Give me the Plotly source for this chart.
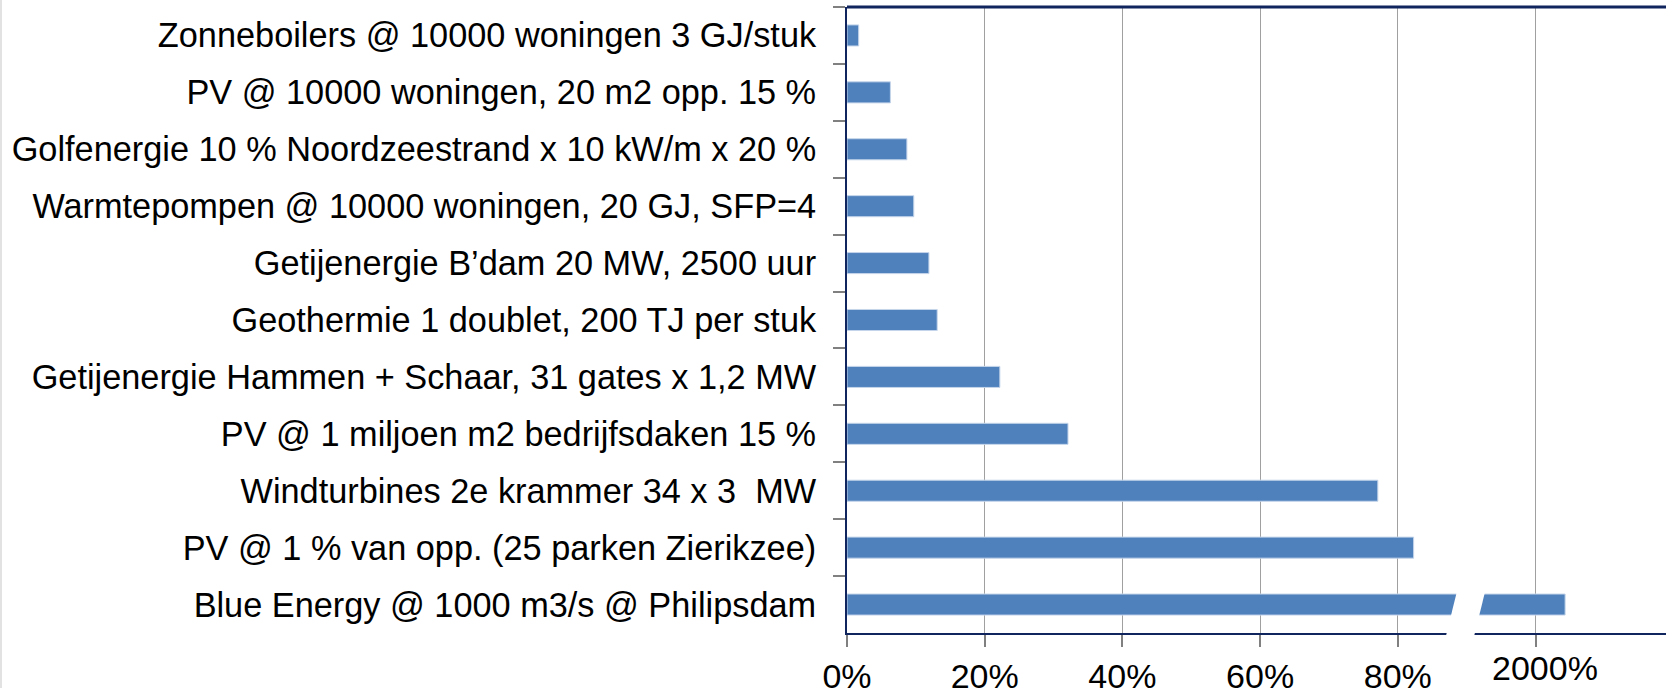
import plotly.graph_objects as go

categories = [
    "Zonneboilers @ 10000 woningen 3 GJ/stuk",
    "PV @ 10000 woningen, 20 m2 opp. 15 %",
    "Golfenergie 10 % Noordzeestrand x 10 kW/m x 20 %",
    "Warmtepompen @ 10000 woningen, 20 GJ, SFP=4",
    "Getijenergie B’dam 20 MW, 2500 uur",
    "Geothermie 1 doublet, 200 TJ per stuk",
    "Getijenergie Hammen + Schaar, 31 gates x 1,2 MW",
    "PV @ 1 miljoen m2 bedrijfsdaken 15 %",
    "Windturbines 2e krammer 34 x 3\u00a0 MW",
    "PV @ 1 % van opp. (25 parken Zierikzee)",
    "Blue Energy @ 1000 m3/s @ Philipsdam",
]
# fraction of demand (axis is broken after 80%: last bar is drawn past the break)
values = [0.017, 0.063, 0.087, 0.097, 0.119, 0.131, 0.222, 0.321, 0.771, 0.823, 1.043]
tick_vals = [0, 0.2, 0.4, 0.6, 0.8, 1.0]
tick_labels = ["0%", "20%", "40%", "60%", "80%", "2000%"]

NAVY = "#10245E"
GRID = "#A0A0A0"
FONT = "Liberation Sans, Arial, sans-serif"

L, T, B = 847, 7, 55
W, H = 1666, 688
PW, PH = W - L, H - T - B

fig = go.Figure()
fig.add_trace(go.Bar(
    y=categories, x=values, orientation="h",
    marker=dict(color="#4F81BD", line=dict(color="#C5D5EA", width=1)),
    hoverinfo="x+y",
))

fig.update_layout(
    width=W, height=H,
    margin=dict(l=L, r=0, t=T, b=B),
    paper_bgcolor="white", plot_bgcolor="white",
    showlegend=False, bargap=0.63,
    font=dict(family=FONT, size=34, color="black"),
    xaxis=dict(
        range=[0, PW / 688.5], tickvals=tick_vals,
        ticktext=tick_labels[:-1] + [""],
        showgrid=True, gridcolor=GRID, gridwidth=1, zeroline=False,
        showline=True, linecolor=NAVY, linewidth=2,
        ticks="outside", ticklen=12, tickcolor="#808080", tickwidth=1.5,
        ticklabelstandoff=0, automargin=False,
        tickfont=dict(family=FONT, size=34, color="black"),
    ),
    yaxis=dict(
        autorange="reversed", type="category",
        showgrid=False, zeroline=False,
        showline=True, linecolor=NAVY, linewidth=2,
        ticks="outside", tickson="boundaries", ticklen=12,
        tickcolor="#808080", tickwidth=1.5,
        ticklabelstandoff=22, automargin=False,
        tickfont=dict(family=FONT, size=34.3, color="black"),
    ),
)

# top border line
fig.add_shape(type="line", xref="paper", yref="paper", x0=0, x1=1, y0=1, y1=1,
              line=dict(color=NAVY, width=3), layer="above")
# left light-gray frame edge
fig.add_shape(type="line", xref="paper", yref="paper",
              x0=(1 - L) / PW, x1=(1 - L) / PW, y0=-B / PH, y1=1 + T / PH,
              line=dict(color="#E2E2E2", width=2), layer="above")
# axis break (white slanted gap through the last bar and the axis)
fig.add_shape(type="path", xref="x", yref="paper",
              path="M 0.8878 0.075 L 0.9288 0.075 L 0.9102 -0.008 L 0.8692 -0.008 Z",
              fillcolor="white", line=dict(width=0), layer="above")

# label of the value beyond the break
fig.add_annotation(x=tick_vals[-1], y=0, xref="x", yref="paper",
                   text=tick_labels[-1], showarrow=False,
                   xanchor="center", yanchor="top", xshift=9, yshift=-14,
                   font=dict(family=FONT, size=34, color="black"))

fig.write_html(
    "out.html",
    config={"displayModeBar": False},
    post_script="document.body.style.margin='0';document.body.style.overflow='hidden';",
)
